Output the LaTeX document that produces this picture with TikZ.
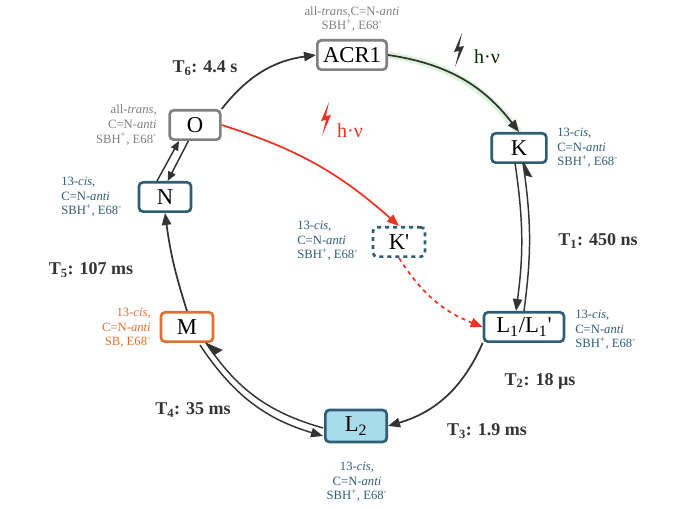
\documentclass[tikz,border=0pt]{standalone}
\usepackage{fontspec}
\setmainfont{Liberation Serif}
\usetikzlibrary{arrows.meta}
\definecolor{gr}{HTML}{808080}
\definecolor{tl}{HTML}{2E5E74}
\definecolor{orn}{HTML}{E07030}
\definecolor{lb}{HTML}{A8DCEB}
\definecolor{rd}{HTML}{EE3322}
\definecolor{dk}{HTML}{333333}
\begin{document}
\begin{tikzpicture}[x=0.75pt,y=-0.75pt,
 st/.style={draw,line width=2pt,rounded corners=3pt,minimum height=22pt,inner sep=3pt,font=\fontsize{17}{17}\selectfont},
 ann/.style={font=\fontsize{9.5}{11}\selectfont,inner sep=0pt,align=left},
 tlab/.style={font=\fontsize{13.5}{13.5}\selectfont\bfseries,text=dk,inner sep=0pt},
 ar/.style={draw=dk,line width=1.3pt,-{Triangle[length=9pt,width=7pt]}},
 dl/.style={draw=dk,line width=1.1pt}]
\useasboundingbox (0,0) rectangle (683,509);
\node[st,draw=gr,minimum width=52pt] (acr) at (352,55) {ACR1};
\node[st,draw=gr,minimum width=38pt] (o) at (195,125) {O};
\node[st,draw=tl,minimum width=41pt] (k) at (519,148) {K};
\node[st,draw=tl,minimum width=39pt] (n) at (165,197) {N};
\node[st,draw=tl,dashed,minimum width=39pt] (kp) at (399,242) {K\textquotesingle};
\node[st,draw=tl,minimum width=60pt] (l1) at (524,327) {L\textsubscript{1}/L\textsubscript{1}\textquotesingle};
\node[st,draw=orn,minimum width=39pt] (m) at (187,327) {M};
\node[st,draw=tl,fill=lb,minimum width=46pt,minimum height=24pt] (l2) at (356,426) {L\textsubscript{2}};
% annotations
\node[ann,gr,align=center] (aacr) at (352,19) {all-\textit{trans},C=N-\textit{anti}\\SBH\textsuperscript{+}, E68\textsuperscript{-}};
\node[ann,gr,align=right,anchor=east] (ao) at (157,125) {all-\textit{trans},\\C=N-\textit{anti}\\SBH\textsuperscript{+}, E68\textsuperscript{-}};
\node[ann,tl,anchor=west] (ak) at (557,148) {13-\textit{cis},\\C=N-\textit{anti}\\SBH\textsuperscript{+}, E68\textsuperscript{-}};
\node[ann,tl,anchor=west] (an) at (61,197) {13-\textit{cis},\\C=N-\textit{anti}\\SBH\textsuperscript{+}, E68\textsuperscript{-}};
\node[ann,tl,anchor=west] (akp) at (297,241) {13-\textit{cis},\\C=N-\textit{anti}\\SBH\textsuperscript{+}, E68\textsuperscript{-}};
\node[ann,tl,anchor=west] (al1) at (575,330) {13-\textit{cis},\\C=N-\textit{anti}\\SBH\textsuperscript{+}, E68\textsuperscript{-}};
\node[ann,orn,align=right,anchor=east] (am) at (151,328) {13-\textit{cis},\\C=N-\textit{anti}\\SB, E68\textsuperscript{-}};
\node[ann,tl,align=center] (al2) at (357,482) {13-\textit{cis},\\C=N-\textit{anti}\\SBH\textsuperscript{+}, E68\textsuperscript{-}};
% time labels
\node[tlab] (t6) at (205,68) {T\textsubscript{6}: 4.4 s};
\node[tlab] (t1) at (598,241) {T\textsubscript{1}: 450 ns};
\node[tlab] (t2) at (540,381) {T\textsubscript{2}: 18 µs};
\node[tlab] (t3) at (487,431) {T\textsubscript{3}: 1.9 ms};
\node[tlab] (t4) at (193,410) {T\textsubscript{4}: 35 ms};
\node[tlab] (t5) at (91,270) {T\textsubscript{5}: 107 ms};
% light
\fill[black!80] (462,33) -- (454,52) -- (459,51) -- (455,67) -- (464,46) -- (459,47) -- cycle;
\node[font=\fontsize{15}{15}\selectfont,text=black!70!green!60!black] (hv1) at (487,57) {h·ν};
\fill[rd] (329,102) -- (321,121) -- (326,120) -- (322,136) -- (331,115) -- (326,116) -- cycle;
\node[font=\fontsize{15}{15}\selectfont,text=rd] (hv2) at (350,131) {h·ν};
% arrows
\draw[ar] (o.north east) to[bend left=22] (acr.west);
\draw[draw=green!70!black,line width=5pt,opacity=0.15] (acr.east) to[bend left=22] (k.north);
\draw[ar] (acr.east) to[bend left=22] (k.north);
\draw[ar,draw=rd] (o.east) to[bend left=12] (kp.north);
\draw[ar,draw=rd,dashed] (kp.south) to[bend right=18] (l1.west);
% K <-> L1 double
\coordinate (ka) at (515,163); \coordinate (kb) at (523,163);
\coordinate (la) at (516,311); \coordinate (lb) at (524,311);
\draw[ar,line width=1.1pt] (ka) to[bend left=8] (la);
\draw[dl] (kb) to[bend left=8] (lb);
\draw[draw=dk,fill=dk] (524,163) -- (532,177) -- (525,175) -- cycle;
\draw[ar] (l1.south west) to[bend left=25] (l2.east);
% L2 <-> M double
\coordinate (l2a) at (323,428); \coordinate (l2b) at (323,436);
\coordinate (ma) at (206,343); \coordinate (mb) at (200,345);
\draw[dl] (l2a) to[bend left=20] (ma);
\draw[ar,line width=1.1pt] (mb) to[bend right=20] (l2b);
\draw[draw=dk,fill=dk] (206,343) -- (222,350) -- (214,355) -- cycle;
\draw[ar] (m.north) to[bend left=5] (n.south);
% N <-> O
\draw[ar,line width=1.1pt,-{Triangle[length=7pt,width=6pt]}] ([xshift=-6]n.north) -- ([xshift=-12]o.south);
\draw[ar,line width=1.1pt,-{Triangle[length=7pt,width=6pt]}] ([xshift=-5]o.south) -- ([xshift=2]n.north);
\end{tikzpicture}
\end{document}
